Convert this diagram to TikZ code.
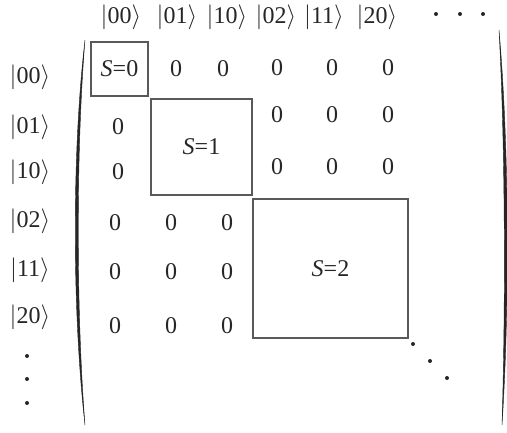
\documentclass[tikz,border=0pt]{standalone}
\usepackage{fontspec}
\setmainfont{Liberation Serif}
\newcommand{\myket}[1]{\mbox{$|$#1$\rangle$}}
\begin{document}
\begin{tikzpicture}[x=1pt,y=-1pt,
  txt/.style={font=\fontsize{24}{28}\selectfont, inner sep=0pt, text=black!85},
  hdr/.style={txt, anchor=base},
  blk/.style={draw=black!65, line width=1.3pt, inner sep=0pt, font=\fontsize{24}{28}\selectfont, text=black!85},
  dotn/.style={circle, fill=black!85, inner sep=0pt, minimum size=4pt},
  paren/.style={fill=black!85, draw=black!85, line width=0.4pt}]
\useasboundingbox (0,0) rectangle (507,432);
% header kets
\node[hdr] (h1) at (121,23) {\myket{00}};
\node[hdr] (h2) at (177,23) {\myket{01}};
\node[hdr] (h3) at (227,23) {\myket{10}};
\node[hdr] (h4) at (276,23) {\myket{02}};
\node[hdr] (h5) at (324,23) {\myket{11}};
\node[hdr] (h6) at (377,23) {\myket{20}};
\node[dotn] (hd1) at (436,14) {};
\node[dotn] (hd2) at (460,14) {};
\node[dotn] (hd3) at (483,14) {};
% row labels
\node[txt] (r1) at (30,77) {\myket{00}};
\node[txt] (r2) at (30,127) {\myket{01}};
\node[txt] (r3) at (30,172) {\myket{10}};
\node[txt] (r4) at (30,221) {\myket{02}};
\node[txt] (r5) at (30,270) {\myket{11}};
\node[txt] (r6) at (30,317) {\myket{20}};
\node[dotn] (rd1) at (27,356) {};
\node[dotn] (rd2) at (27,379) {};
\node[dotn] (rd3) at (27,403) {};
% parentheses
\path[paren] (85,40) .. controls (72,150) and (72,310) .. (85,425)
  .. controls (76,310) and (76,150) .. (85,40) -- cycle;
\path[paren] (499,30) .. controls (509.5,150) and (509.5,310) .. (502,425)
  .. controls (505.5,310) and (505.5,150) .. (499,30) -- cycle;
% blocks
\node[blk, minimum width=57pt, minimum height=54pt] (b0) at (119.5,69) {\textit{S}=0};
\node[blk, minimum width=101pt, minimum height=96pt] (b1) at (201.5,147) {\textit{S}=1};
\node[blk, minimum width=155pt, minimum height=139pt] (b2) at (330.5,268.5) {\textit{S}=2};
% row 00 zeros
\node[txt] (z12) at (176,69) {0};
\node[txt] (z13) at (223,69) {0};
\node[txt] (z14) at (277,68) {0};
\node[txt] (z15) at (332,68) {0};
\node[txt] (z16) at (388,68) {0};
% rows 01, 10
\node[txt] (z21) at (118,127) {0};
\node[txt] (z24) at (277,115) {0};
\node[txt] (z25) at (332,115) {0};
\node[txt] (z26) at (388,115) {0};
\node[txt] (z31) at (118,172) {0};
\node[txt] (z34) at (277,167) {0};
\node[txt] (z35) at (332,167) {0};
\node[txt] (z36) at (388,167) {0};
% rows 02, 11, 20
\node[txt] (z41) at (115,223) {0};
\node[txt] (z42) at (171,223) {0};
\node[txt] (z43) at (227,223) {0};
\node[txt] (z51) at (115,272) {0};
\node[txt] (z52) at (171,272) {0};
\node[txt] (z53) at (227,272) {0};
\node[txt] (z61) at (115,326) {0};
\node[txt] (z62) at (171,326) {0};
\node[txt] (z63) at (227,326) {0};
% diagonal dots
\node[dotn] (dd1) at (413,344) {};
\node[dotn] (dd2) at (430,361) {};
\node[dotn] (dd3) at (447,378) {};
\end{tikzpicture}
\end{document}
